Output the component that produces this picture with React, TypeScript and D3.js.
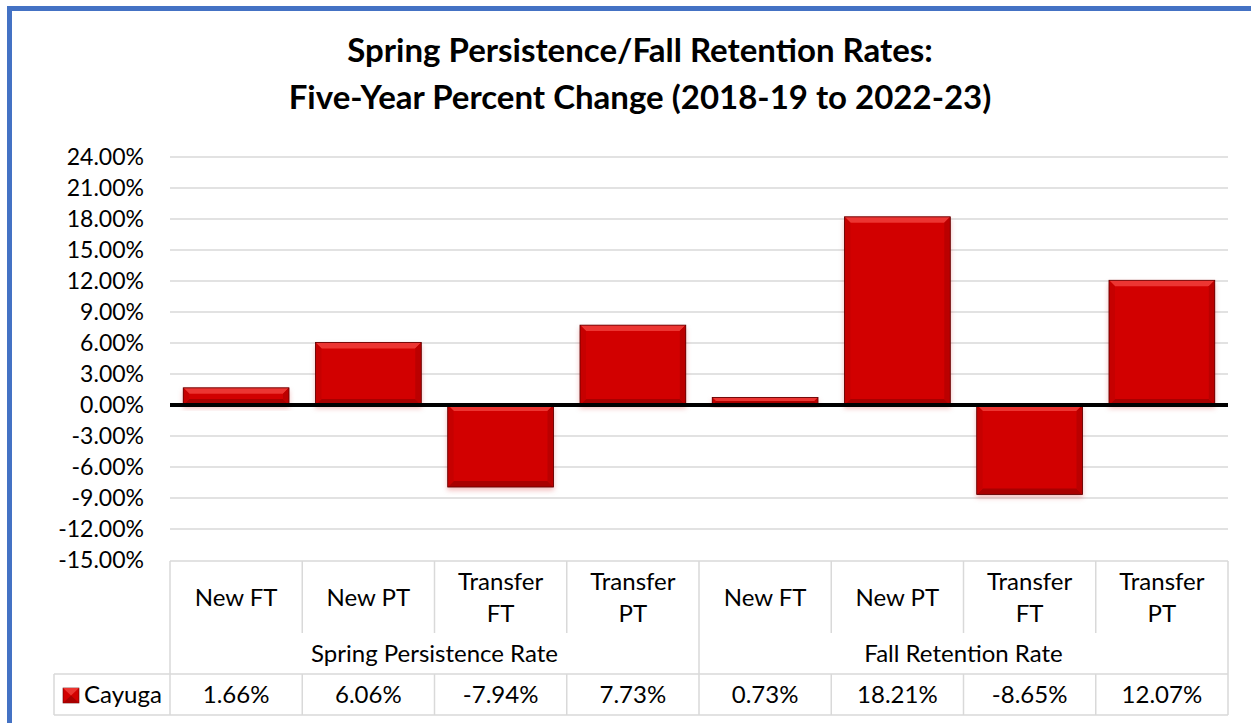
import React from "react";
import * as d3 from "d3";

// chart values
const categories = ["New FT", "New PT", "Transfer FT", "Transfer PT", "New FT", "New PT", "Transfer FT", "Transfer PT"];
const groups = ["Spring Persistence Rate", "Fall Retention Rate"];
const groupOf = [0, 0, 0, 0, 1, 1, 1, 1];
const cayuga = [1.66, 6.06, -7.94, 7.73, 0.73, 18.21, -8.65, 12.07];
const yTicks = [24, 21, 18, 15, 12, 9, 6, 3, 0, -3, -6, -9, -12, -15];
const seriesName = "Cayuga";

const W = 1251;
const H = 723;
const FONT = "Lato, 'Open Sans', sans-serif";
const GRID = "#d9d9d9";
const pct = (v: number) => v.toFixed(2) + "%";

const Bar = ({ x, y, w, h }: { x: number; y: number; w: number; h: number }) => {
  // bevelled bar, like Excel's "angle" bevel
  const b = Math.min(6, h / 2, w / 2);
  const x2 = x + w;
  const y2 = y + h;
  return (
    <g filter="url(#shadow)">
      <rect x={x} y={y} width={w} height={h} fill="#d20000" />
      <polygon points={`${x},${y} ${x2},${y} ${x2 - b},${y + b} ${x + b},${y + b}`} fill="#ec3430" />
      <polygon points={`${x},${y2} ${x2},${y2} ${x2 - b},${y2 - b} ${x + b},${y2 - b}`} fill="#a80000" />
      <polygon points={`${x},${y} ${x + b},${y + b} ${x + b},${y2 - b} ${x},${y2}`} fill="#c60000" />
      <polygon points={`${x2},${y} ${x2 - b},${y + b} ${x2 - b},${y2 - b} ${x2},${y2}`} fill="#bb0000" />
      <rect x={x} y={y} width={w} height={h} fill="none" stroke="#5a0000" strokeWidth={0.8} />
    </g>
  );
};

export default function App() {
  const left = 170;
  const right = 1228;
  const y = d3.scaleLinear().domain([-15, 24]).range([560, 157]);
  const x = d3
    .scaleBand<number>()
    .domain(cayuga.map((_, i) => i))
    .range([left, right])
    .paddingInner(0.2)
    .paddingOuter(0.1);
  const step = x.step();
  const colEdge = (i: number) => left + i * step;

  // table rows
  const tTop = 561;
  const catBottom = 633;
  const dataTop = 674;
  const tBottom = 715;
  const legendLeft = 54;
  const tableFont = 24;

  return (
    <svg width={W} height={H} style={{ position: "absolute", left: 0, top: 0 }} fontFamily={FONT}>
      <defs>
        <filter id="shadow" x="-10%" y="-10%" width="120%" height="140%">
          <feDropShadow dx="0" dy="3" stdDeviation="2.5" floodColor="#d00000" floodOpacity="0.25" />
        </filter>
      </defs>
      <rect x={0} y={0} width={W} height={H} fill="#fff" />
      <rect x={9.5} y={8.5} width={W + 20} height={H + 20} fill="none" stroke="#4472c4" strokeWidth={5} />

      {/* title */}
      <text x={640} y={62} textAnchor="middle" fontSize={33} fontWeight="bold" fill="#000">
        Spring Persistence/Fall Retention Rates:
      </text>
      <text x={640} y={109} textAnchor="middle" fontSize={33} fontWeight="bold" fill="#000">
        Five-Year Percent Change (2018-19 to 2022-23)
      </text>

      {/* gridlines and y labels */}
      {yTicks.map((t) => (
        <g key={t}>
          {t !== 0 && t !== -15 && (
            <line x1={left} x2={right} y1={y(t)} y2={y(t)} stroke={GRID} strokeWidth={1.5} />
          )}
          <text x={144} y={y(t)} dy="0.36em" textAnchor="end" fontSize={23} fill="#000">
            {pct(t)}
          </text>
        </g>
      ))}

      {/* bars */}
      {cayuga.map((v, i) => (
        <Bar
          key={i}
          x={x(i) as number}
          y={Math.min(y(v), y(0))}
          w={x.bandwidth()}
          h={Math.abs(y(v) - y(0))}
        />
      ))}

      {/* zero line */}
      <line x1={left} x2={right} y1={y(0)} y2={y(0)} stroke="#000" strokeWidth={4} />

      {/* data table */}
      <g stroke={GRID} strokeWidth={1.5}>
        <line x1={left} x2={right} y1={tTop} y2={tTop} />
        <line x1={legendLeft} x2={right} y1={dataTop} y2={dataTop} />
        <line x1={legendLeft} x2={right} y1={tBottom} y2={tBottom} />
        <line x1={legendLeft} x2={legendLeft} y1={dataTop} y2={tBottom} />
        {d3.range(categories.length + 1).map((i) => {
          const full = i === 0 || i === categories.length || i === 4;
          return (
            <g key={i}>
              <line x1={colEdge(i)} x2={colEdge(i)} y1={tTop} y2={full ? tBottom : catBottom} />
              {!full && <line x1={colEdge(i)} x2={colEdge(i)} y1={dataTop} y2={tBottom} />}
            </g>
          );
        })}
      </g>

      {categories.map((c, i) => {
        const cx = colEdge(i) + step / 2;
        const words = c.split(" ");
        const lines = words[0] === "Transfer" ? [words[0], words.slice(1).join(" ")] : [c];
        return (
          <text key={i} x={cx} textAnchor="middle" fontSize={tableFont} fill="#000">
            {lines.map((l, j) => (
              <tspan key={j} x={cx} y={(tTop + catBottom) / 2 + (j - (lines.length - 1) / 2) * 32} dy="0.36em">
                {l}
              </tspan>
            ))}
          </text>
        );
      })}

      {groups.map((g, gi) => {
        const idx = groupOf.map((v, i) => (v === gi ? i : -1)).filter((i) => i >= 0);
        const cx = (colEdge(idx[0]) + colEdge(idx[idx.length - 1] + 1)) / 2;
        return (
          <text key={g} x={cx} y={(catBottom + dataTop) / 2} dy="0.36em" textAnchor="middle" fontSize={tableFont} fill="#000">
            {g}
          </text>
        );
      })}

      {cayuga.map((v, i) => (
        <text
          key={i}
          x={colEdge(i) + step / 2}
          y={(dataTop + tBottom) / 2}
          dy="0.36em"
          textAnchor="middle"
          fontSize={tableFont}
          fill="#000"
        >
          {pct(v)}
        </text>
      ))}

      {/* legend key */}
      <g>
        <rect x={63} y={688} width={16} height={15} fill="#d20000" stroke="#5a0000" strokeWidth={0.6} />
        <polygon points="63,688 79,688 71,695.5" fill="#ec3430" />
        <polygon points="63,703 79,703 71,695.5" fill="#a80000" />
      </g>
      <text x={84} y={(dataTop + tBottom) / 2} dy="0.36em" fontSize={tableFont} fill="#000">
        {seriesName}
      </text>
    </svg>
  );
}
